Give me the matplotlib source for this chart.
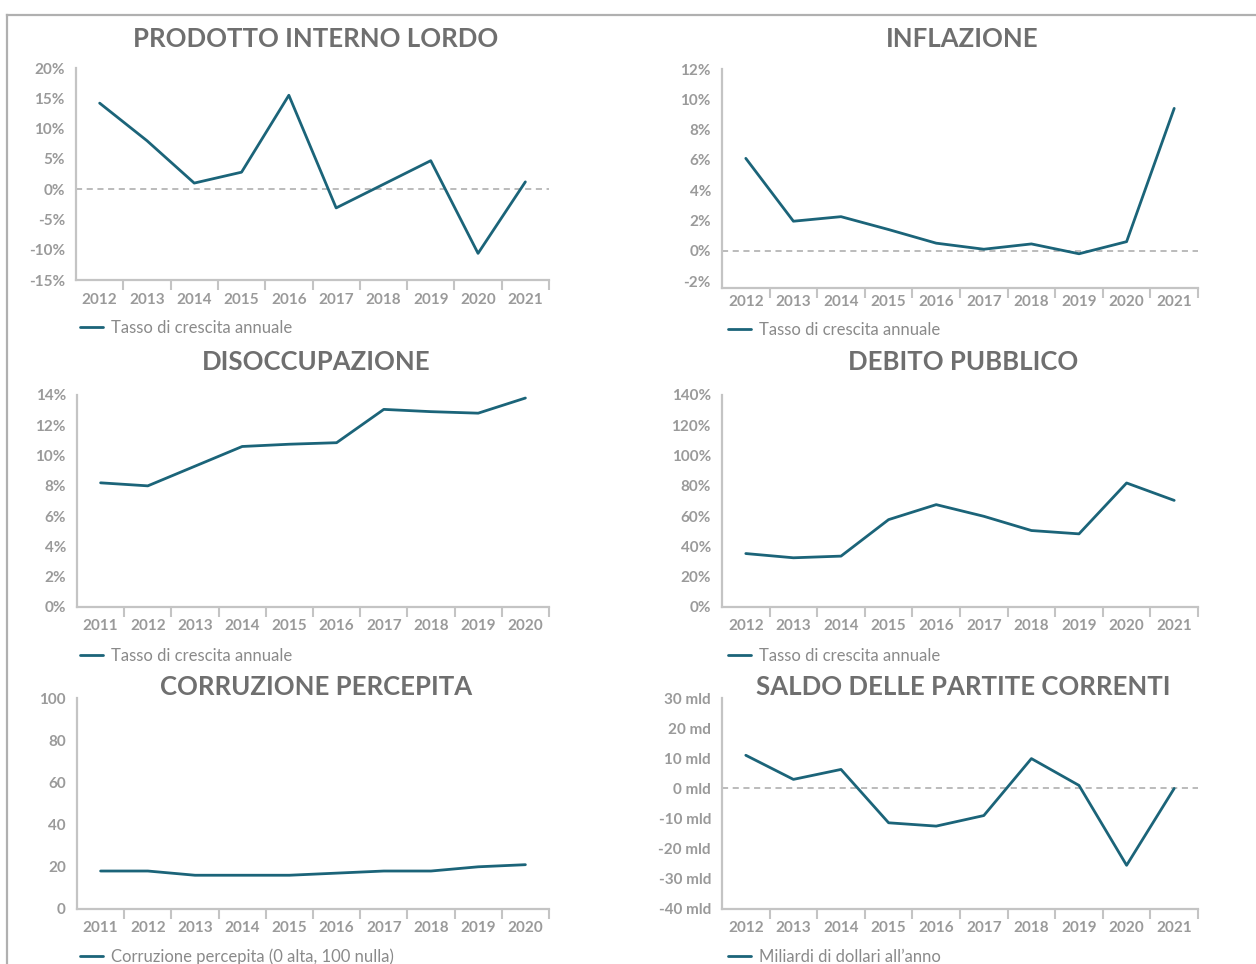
import matplotlib
matplotlib.use("Agg")
import matplotlib.pyplot as plt
from matplotlib.lines import Line2D

# ---------------- data ----------------
anni_a = ['2012', '2013', '2014', '2015', '2016', '2017', '2018', '2019', '2020', '2021']
anni_b = ['2011', '2012', '2013', '2014', '2015', '2016', '2017', '2018', '2019', '2020']

pil = [14.2, 8.0, 1.0, 2.8, 15.5, -3.1, 0.8, 4.7, -10.6, 1.2]
inflazione = [6.1, 1.95, 2.25, 1.4, 0.5, 0.1, 0.45, -0.2, 0.6, 9.4]
disoccupazione = [8.2, 8.0, 9.3, 10.6, 10.75, 10.85, 13.05, 12.9, 12.8, 13.8]
debito = [35.3, 32.5, 33.6, 57.7, 67.6, 59.9, 50.5, 48.3, 81.9, 70.4]
corruzione = [18, 18, 16, 16, 16, 17, 18, 18, 20, 21]
saldo = [11.0, 3.0, 6.3, -11.4, -12.5, -9.0, 9.9, 1.0, -25.5, 0.0]

pil_ticks = [-15, -10, -5, 0, 5, 10, 15, 20]
pil_labels = ['-15%', '-10%', '-5%', '0%', '5%', '10%', '15%', '20%']
infl_ticks = [-2, 0, 2, 4, 6, 8, 10, 12]
infl_labels = ['-2%', '0%', '2%', '4%', '6%', '8%', '10%', '12%']
dis_ticks = [0, 2, 4, 6, 8, 10, 12, 14]
dis_labels = ['0%', '2%', '4%', '6%', '8%', '10%', '12%', '14%']
deb_ticks = [0, 20, 40, 60, 80, 100, 120, 140]
deb_labels = ['0%', '20%', '40%', '60%', '80%', '100%', '120%', '140%']
cor_ticks = [0, 20, 40, 60, 80, 100]
cor_labels = ['0', '20', '40', '60', '80', '100']
sal_ticks = [-40, -30, -20, -10, 0, 10, 20, 30]
sal_labels = ['-40 mld', '-30 mld', '-20 mld', '-10 mld', '0 mld', '10 mld', '20 md', '30 mld']

titoli = ['PRODOTTO INTERNO LORDO', 'INFLAZIONE', 'DISOCCUPAZIONE',
          'DEBITO PUBBLICO', 'CORRUZIONE PERCEPITA', 'SALDO DELLE PARTITE CORRENTI']
legende = ['Tasso di crescita annuale', 'Tasso di crescita annuale',
           'Tasso di crescita annuale', 'Tasso di crescita annuale',
           'Corruzione percepita (0 alta, 100 nulla)', 'Miliardi di dollari all\u2019anno']

# ---------------- style ----------------
W, H = 1256, 964
LINE = '#1b6479'
AXIS = '#c4c4c4'
TICKTXT = '#9a9a9a'
TITLE = '#6f6f6f'
LEGTXT = '#8a8a8a'
FONT = ['Lato', 'DejaVu Sans']

plt.rcParams['font.family'] = FONT

fig = plt.figure(figsize=(W / 100, H / 100), dpi=100)
fig.patch.set_facecolor('white')

# outer frame lines (top and left)
fig.add_artist(Line2D([7 / W, 1.0], [1 - 15 / H, 1 - 15 / H], transform=fig.transFigure,
                      color='#b0b0b0', lw=1.6))
fig.add_artist(Line2D([7 / W, 7 / W], [1 - 15 / H, 0.0], transform=fig.transFigure,
                      color='#b0b0b0', lw=1.6))


def panel(l, r, t, b, ylim, ticks, labels, xlabels, values, title, title_xy,
          leg_label, leg_xy, zero=False, xpad=9):
    ax = fig.add_axes([l / W, 1 - b / H, (r - l) / W, (b - t) / H])
    n = len(xlabels)
    xs = [i + 0.5 for i in range(n)]
    ax.plot(xs, values, color=LINE, lw=2.0, solid_joinstyle='round',
            solid_capstyle='round', label=leg_label, zorder=3)
    if zero:
        ax.axhline(0, color='#a8a8a8', lw=1.1, ls=(0, (4, 3)), zorder=2)
    ax.set_xlim(0, n)
    ax.set_ylim(*ylim)
    ax.set_yticks(ticks)
    ax.set_yticklabels(labels)
    ax.set_xticks(xs)
    ax.set_xticklabels(xlabels)
    ax.set_xticks(list(range(1, n + 1)), minor=True)
    ax.tick_params(axis='x', which='major', length=0, pad=xpad)
    ax.tick_params(axis='x', which='minor', length=7, width=1.5, color=AXIS,
                   direction='out')
    ax.tick_params(axis='y', length=0, pad=8)
    for lab in ax.get_xticklabels() + ax.get_yticklabels():
        lab.set_color(TICKTXT)
        lab.set_fontsize(11)
        lab.set_fontweight('bold')
    for s in ['top', 'right']:
        ax.spines[s].set_visible(False)
    for s in ['left', 'bottom']:
        ax.spines[s].set_color(AXIS)
        ax.spines[s].set_linewidth(1.6)
    ax.set_facecolor('none')
    fig.text(title_xy[0] / W, 1 - title_xy[1] / H, title, ha='center', va='center',
             fontsize=18.5, fontweight='bold', color=TITLE)
    ax.legend(loc='center left', bbox_to_anchor=(leg_xy[0] / W, 1 - leg_xy[1] / H),
              bbox_transform=fig.transFigure, frameon=False, borderpad=0,
              borderaxespad=0, handlelength=1.4, handletextpad=0.45,
              fontsize=12, labelcolor=LEGTXT)
    return ax


panel(76, 549, 68, 280, (-15, 20), pil_ticks, pil_labels, anni_a, pil,
      titoli[0], (316, 39), legende[0], (80, 328), zero=True)
panel(722, 1198, 69, 288, (-2.46, 12), infl_ticks, infl_labels, anni_a, inflazione,
      titoli[1], (962, 39), legende[1], (728, 330), zero=True, xpad=5)
panel(77, 549, 395, 607, (0, 14), dis_ticks, dis_labels, anni_b, disoccupazione,
      titoli[2], (316, 362), legende[2], (80, 656))
panel(722, 1198, 395, 607, (0, 140), deb_ticks, deb_labels, anni_a, debito,
      titoli[3], (963, 362), legende[3], (728, 656))
panel(77, 549, 698, 909, (0, 100), cor_ticks, cor_labels, anni_b, corruzione,
      titoli[4], (316, 687), legende[4], (80, 957))
panel(722, 1198, 698, 909, (-40, 30), sal_ticks, sal_labels, anni_a, saldo,
      titoli[5], (963, 687), legende[5], (728, 957), zero=True)

fig.savefig('out.png', dpi=100, facecolor='white')
